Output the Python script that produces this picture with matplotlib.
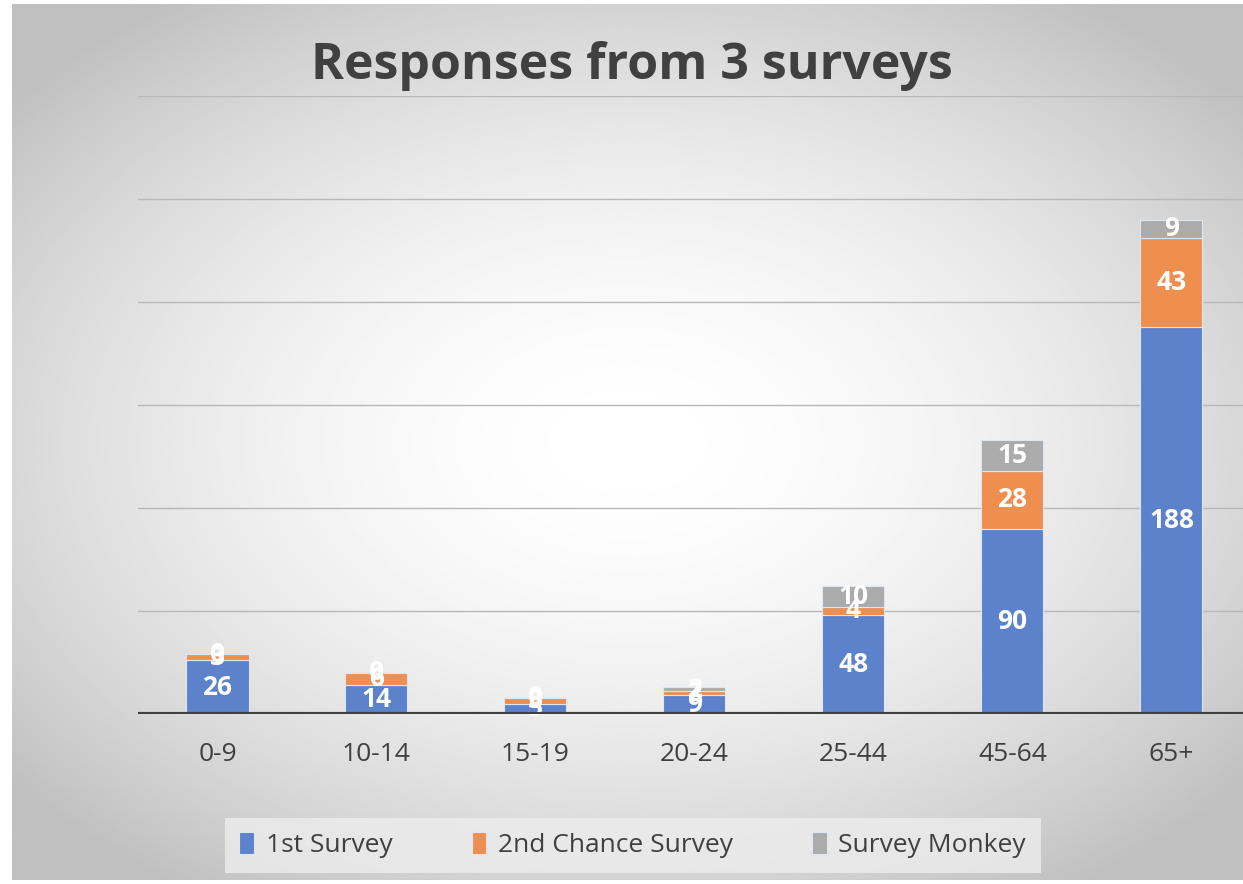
import numpy as np
import matplotlib.pyplot as plt

categories = ['0-9', '10-14', '15-19', '20-24', '25-44', '45-64', '65+']
first_survey = [26, 14, 5, 9, 48, 90, 188]
second_chance = [3, 6, 3, 2, 4, 28, 43]
survey_monkey = [0, 0, 0, 2, 10, 15, 9]

series = [('1st Survey', first_survey, '#5b82cb'),
          ('2nd Chance Survey', second_chance, '#ee8f4f'),
          ('Survey Monkey', survey_monkey, '#ababab')]

plt.rcParams['font.family'] = ['Open Sans', 'DejaVu Sans']

fig = plt.figure(figsize=(12.43, 8.84), dpi=100)

# radial gradient background
bg = fig.add_axes([12 / 1243, 4 / 884, 1 - 12 / 1243, 1 - 8 / 884])
yy, xx = np.mgrid[0:1:400j, 0:1:560j]
r = np.sqrt(((xx - 0.5) / 0.85) ** 2 + ((yy - 0.5) / 0.8) ** 2)
shade = 1 - 0.21 * np.clip(r / 0.7, 0, 1.1) ** 1.8
bg.imshow(shade, cmap='gray', vmin=0, vmax=1, aspect='auto', extent=[0, 1, 0, 1])
bg.axis('off')

ax = fig.add_axes([138 / 1243, 170 / 884, (1243 - 138) / 1243, 618 / 884])
ax.patch.set_alpha(0)
x = np.arange(len(categories))
bottom = np.zeros(len(categories))
for name, vals, color in series:
    vals = np.array(vals)
    ax.bar(x, vals, 0.39, bottom=bottom, color=color, label=name,
           edgecolor='#dfe6f3', linewidth=0.8, zorder=3)
    for xi, b, v in zip(x, bottom, vals):
        ax.text(xi, b + v / 2, str(v), ha='center', va='center', color='white',
                fontsize=19, fontweight='bold', zorder=4)
    bottom += vals

ax.set_ylim(0, 300)
ax.set_xlim(-0.5, 6.45)
ax.set_yticks(range(0, 301, 50))
ax.set_yticklabels([])
ax.tick_params(axis='y', length=0)
ax.grid(axis='y', color='#b8b8b8', linewidth=1, zorder=0)
ax.axhline(0, color='#404040', linewidth=3, zorder=5)
for s in ax.spines.values():
    s.set_visible(False)
ax.set_xticks(x)
ax.set_xticklabels(categories, fontsize=19, color='#404040')
ax.tick_params(axis='x', length=0, pad=20)

fig.text(0.508, 0.925, 'Responses from 3 surveys', ha='center', va='center',
         fontsize=36, fontweight='bold', color='#404040')

leg = fig.legend(loc='center', bbox_to_anchor=(0.509, 0.044), ncol=3,
                 fontsize=19, frameon=True, handlelength=0.55, handleheight=0.9,
                 columnspacing=3.0, handletextpad=0.45, borderpad=0.55)
leg.get_frame().set_facecolor('#ededed')
leg.get_frame().set_edgecolor('none')
leg.get_frame().set_boxstyle('square', pad=0)
for t in leg.get_texts():
    t.set_color('#404040')

fig.savefig('out.png', dpi=100)
